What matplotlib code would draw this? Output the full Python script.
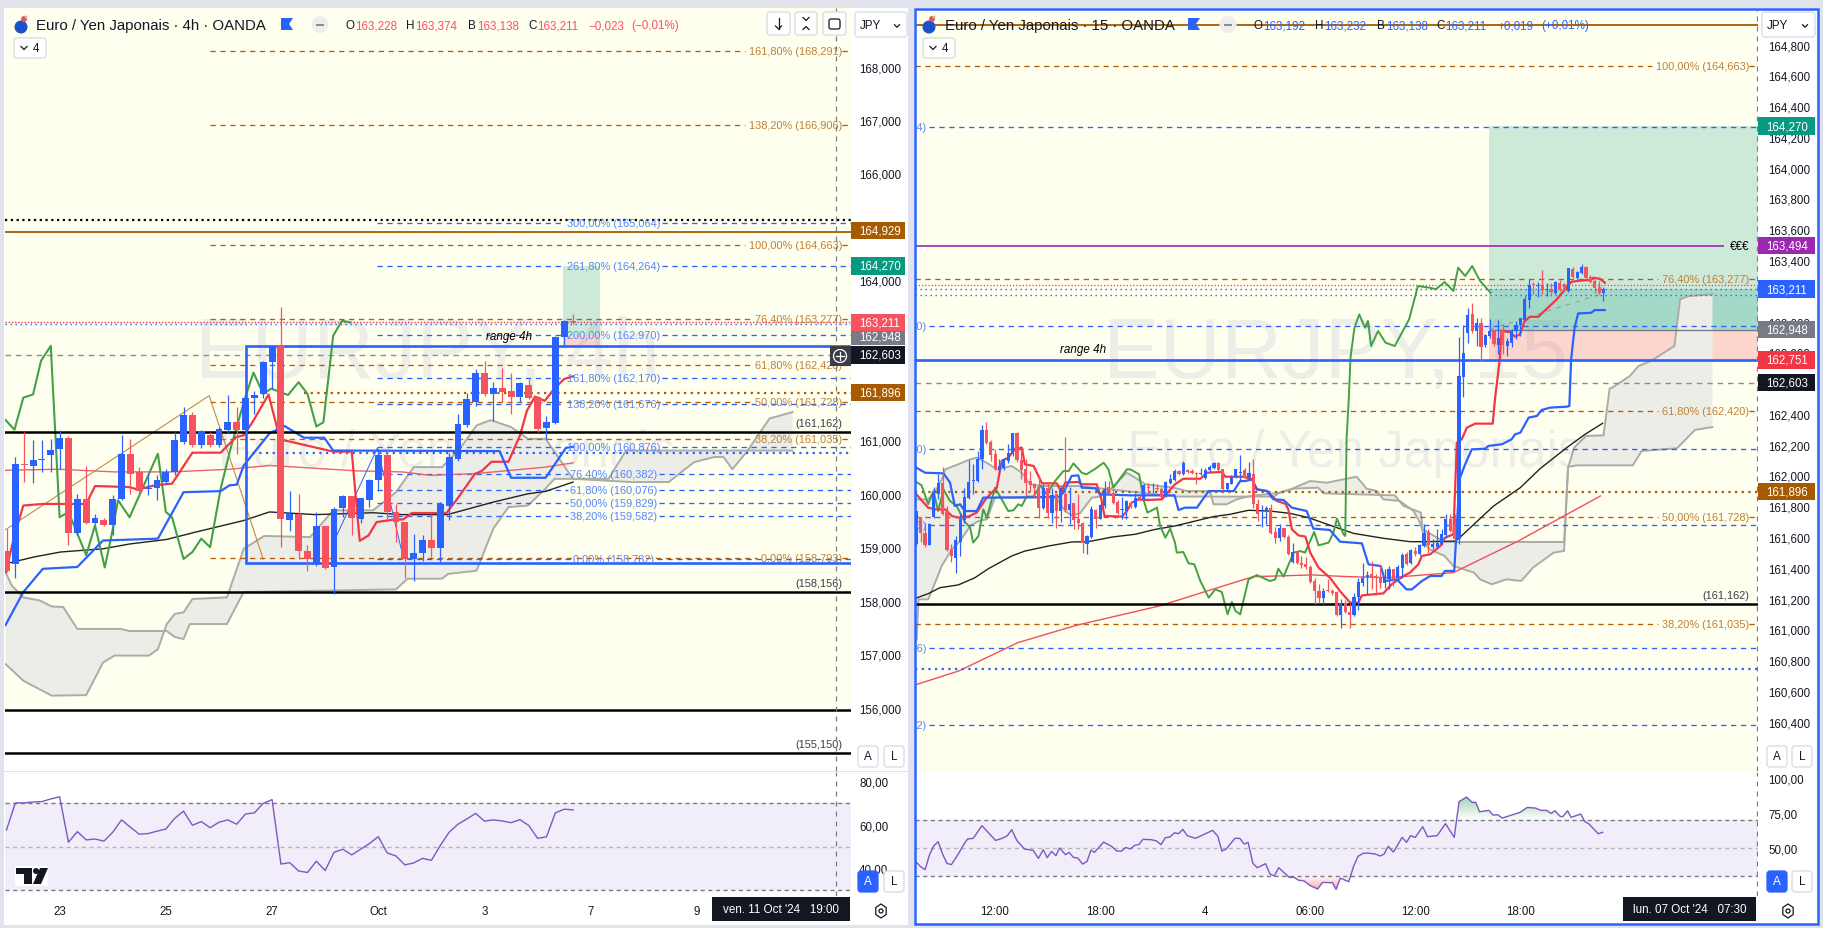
"""EUR/JPY dual pane screenshot (4h and 15m) rebuilt with matplotlib."""
import numpy as np

import matplotlib
matplotlib.use("Agg")
import matplotlib.pyplot as plt
from matplotlib.patches import Circle, FancyBboxPatch, Polygon, Rectangle

plt.rcParams["font.family"] = ["Liberation Sans", "DejaVu Sans"]

W, H = 1823, 929
BLUE = "#2962FF"
RED = "#F7525F"
LINE_RED = "#F23645"
GREEN = "#43A047"
ORANGE = "#B45F06"
ORANGE_TXT = "#BE8035"
BLUE_TXT = "#5585FF"
DARK = "#131722"
LAVENDER = "#E0E3EB"
YELLOW = "#FFFFF0"

# ---- left pane, 4h bars (bar index 6 = 23 Sep, 6 bars a day) ----
l_open = [158.91, 158.67, 160.54, 160.50, 160.61, 160.71, 160.81, 161.03, 159.24, 159.89,
          159.44, 159.49, 159.39, 159.88, 160.73, 160.39, 160.07, 160.09, 160.21, 160.38,
          160.95, 161.46, 160.90, 161.09, 160.89, 161.18, 161.33, 161.18, 161.77, 161.85,
          162.44, 162.74, 159.48, 159.61, 158.91, 158.66, 159.37, 158.60, 159.71, 159.94,
          159.51, 159.87, 160.24, 160.71, 159.63, 159.45, 158.75, 158.87, 159.11, 158.97,
          159.76, 160.64, 161.27, 161.69, 162.24, 161.85, 161.96, 161.90, 161.79, 162.02,
          161.80, 161.22, 161.31, 162.91, 163.22]
l_close = [158.53, 160.54, 160.51, 160.62, 160.64, 160.80, 161.03, 159.24, 159.89, 159.44,
           159.53, 159.39, 159.89, 160.73, 160.36, 160.04, 160.09, 160.24, 160.38, 160.98,
           161.46, 160.89, 161.15, 160.89, 161.20, 161.33, 161.18, 161.77, 161.83, 162.45,
           162.74, 159.50, 159.61, 158.90, 158.75, 159.37, 158.59, 159.69, 159.94, 159.52,
           159.90, 160.24, 160.71, 159.63, 159.45, 158.75, 158.88, 159.11, 158.97, 159.79,
           160.66, 161.29, 161.75, 162.24, 161.85, 161.96, 161.88, 161.79, 162.05, 161.78,
           161.20, 161.32, 162.91, 163.22, 163.20]
l_high = [159.33, 160.67, 161.14, 160.99, 160.98, 161.01, 161.17, 161.06, 159.98, 160.50,
          159.61, 159.53, 159.95, 161.09, 161.00, 160.48, 160.36, 160.33, 160.45, 161.13,
          161.61, 161.51, 161.17, 161.14, 161.23, 161.83, 161.60, 161.89, 161.90, 162.47,
          162.75, 163.47, 160.03, 159.98, 159.02, 159.63, 159.38, 159.73, 159.96, 159.94,
          159.91, 160.26, 160.81, 160.81, 159.79, 159.45, 159.23, 159.20, 159.60, 159.83,
          160.74, 161.47, 161.87, 162.31, 162.46, 162.07, 162.33, 162.24, 162.07, 162.13,
          161.82, 161.44, 162.93, 163.24, 163.35]
l_low = [158.51, 158.41, 160.20, 160.19, 160.39, 160.39, 160.45, 159.03, 159.20, 159.42,
         159.42, 159.37, 159.21, 159.86, 159.98, 160.01, 159.95, 159.86, 160.17, 160.33,
         160.92, 160.86, 160.83, 160.86, 160.86, 161.11, 160.73, 160.92, 161.47, 161.78,
         161.94, 158.99, 159.29, 158.75, 158.54, 158.63, 158.57, 158.10, 159.54, 159.21,
         159.43, 159.74, 160.04, 159.51, 159.07, 158.40, 158.35, 158.73, 158.80, 158.70,
         159.48, 160.60, 161.24, 161.62, 161.82, 161.35, 161.69, 161.47, 161.69, 161.75,
         161.14, 161.00, 161.29, 162.75, 163.16]

l_tenkan_x = [-0.1, 0.9, 1.9, 4.1, 9, 10, 13.9, 14.8, 16.8, 18.7, 21, 24.2, 25.9, 26.8, 27.8, 29.6,
              30.9, 36.9, 39, 39.9, 40.9, 41.8, 43.9, 44.8, 45.8, 49.7, 50.9, 52.9, 53.7, 54.8,
              56.7, 58, 58.8, 59.7, 60.8, 62, 63, 64]
l_tenkan = [158.51, 159.20, 159.76, 159.79, 159.79, 160.125, 160.106, 160.06, 160.14, 160.17,
            160.75, 160.75, 161.04, 161.075, 161.325, 161.84, 161.0, 160.77, 160.77, 159.10,
            159.20, 159.45, 159.50, 159.50, 159.62, 159.62, 159.88, 160.35, 160.41, 160.58,
            160.58, 161.07, 161.54, 161.80, 161.72, 161.97, 162.13, 162.18]
l_kijun_x = [-0.1, 1.9, 4.1, 8, 10.9, 17.1, 20, 24.2, 25.2, 26, 26.8, 29.7, 31.4, 33.6, 35.9,
             36.9, 55.7, 57, 60.9, 63.2, 64]
l_kijun = [157.525, 158.14, 158.575, 158.61, 159.105, 159.14, 160.01, 160.03, 160.14, 160.15,
           160.51, 161.11, 161.25, 161.03, 161.03, 160.79, 160.78, 160.28, 160.28, 160.84, 160.86]
l_chikou_x = [-0.1, 0.9, 1.9, 3, 3.9, 5, 6, 7, 9, 10, 11.1, 11.9, 12.6, 13.9, 17.1, 18, 18.7,
              20, 21, 22, 23, 24.2, 25.3, 26.9, 27.9, 29, 29.9, 31.8, 33, 34, 35, 35.8, 36.9,
              37.9, 38.8]
l_chikou = [161.36, 161.18, 161.78, 161.84, 162.47, 162.75, 159.54, 159.64, 158.83, 159.39,
            158.60, 159.23, 159.86, 159.54, 160.73, 159.64, 159.54, 158.76, 158.89, 159.14,
            158.98, 160.08, 160.82, 161.75, 162.25, 161.85, 161.95, 161.83, 162.07, 161.85,
            161.24, 161.32, 162.94, 163.22, 163.19]
l_ma_black_x = [-0.1, 3.2, 6.1, 10.9, 13.9, 18.1, 21.3, 26.8, 29.7, 34.9, 41.4, 44.7, 49.8, 55,
                58.9, 60.9, 64]
l_ma_black = [158.67, 158.80, 158.89, 158.95, 159.04, 159.125, 159.26, 159.48, 159.64, 159.59,
              159.625, 159.59, 159.59, 159.825, 159.98, 160.025, 160.20]
l_ma_red_x = [-0.1, 5.8, 12.2, 18.7, 25.2, 29.7, 35.6, 39.5, 44.7, 47.9, 53.1, 60.9, 64]
l_ma_red = [160.42, 160.44, 160.39, 160.39, 160.44, 160.51, 160.45, 160.41, 160.39, 160.325,
            160.36, 160.48, 160.56]
l_span_a_x = [-0.1, 0.6, 1.9, 3.8, 5.1, 6.4, 8, 12.9, 13.9, 18.1, 19, 20, 20.7, 24.9, 25.9, 26.8,
              44, 45.3, 49.2, 49.9, 53.1, 55, 56.7, 58.9, 60.9, 61.9, 68, 70, 88.8]
l_span_a = [158.51, 158.26, 158.04, 157.98, 157.87, 157.86, 157.45, 157.45, 157.41, 157.41,
            157.30, 157.26, 157.54, 157.54, 157.86, 158.14, 158.19, 158.39, 158.39, 158.48,
            158.54, 159.33, 159.73, 159.76, 160.08, 160.26, 160.26, 160.79, 160.79]
l_span_b_x = [-0.1, 1.9, 5.1, 9, 10.9, 12.2, 16.1, 17.1, 18.1, 19, 20, 21, 24.9, 26.8, 29.1, 34.3,
              36.9, 41.4, 44, 46, 49.2, 51.2, 53.1, 54.7, 57, 58.9, 60.9, 64, 70.6, 74.8, 77.7,
              80, 81, 82, 83.6, 86.2, 88.8]
l_span_b = [156.79, 156.48, 156.20, 156.21, 156.82, 156.95, 156.95, 157.07, 157.54, 157.73,
            157.76, 158.01, 158.04, 158.95, 159.19, 159.17, 159.67, 159.67, 160.01, 160.48,
            160.48, 160.82, 161.26, 161.36, 161.23, 161.01, 161.01, 160.26, 160.20, 160.20,
            160.575, 160.67, 160.67, 160.44, 160.76, 161.39, 161.51]
l_rsi = [57.7, 70.1, 70.1, 70.5, 70.7, 71.9, 72.9, 52.0, 56.9, 53.1, 53.5, 52.5, 56.6, 62.3, 58.9,
         55.7, 56.0, 57.1, 58.1, 63.0, 66.3, 59.8, 61.5, 58.7, 61.2, 62.3, 60.3, 65.0, 65.5, 69.9,
         71.6, 42.0, 42.6, 38.8, 38.1, 43.3, 39.0, 47.4, 48.8, 46.2, 48.8, 51.4, 54.6, 47.1, 45.7,
         41.6, 42.5, 44.6, 43.7, 50.5, 56.6, 60.3, 62.7, 65.3, 61.7, 62.3, 61.8, 61.0, 62.4, 59.7,
         53.8, 54.5, 65.5, 67.2, 66.9]

l_fib_orange = [168.291, 166.906, 164.663, 163.277, 162.420, 161.728, 161.035, 158.793]
l_fib_orange_lab = ["161,80%", "138,20%", "100,00%", "76,40%", "61,80%", "50,00%", "38,20%", "0,00%"]
l_fib_blue = [165.064, 164.264, 162.970, 162.170, 161.676, 160.876, 160.382, 160.076, 159.829,
              159.582, 158.782]
l_fib_blue_lab = ["300,00%", "261,80%", "200,00%", "161,80%", "138,20%", "100,00%", "76,40%",
                  "61,80%", "50,00%", "38,20%", "0,00%"]
l_black_levels = [161.162, 158.156, 155.95, 155.150]
l_price_ticks = [156, 157, 158, 159, 160, 161, 162, 163, 164, 165, 166, 167, 168]
l_time_ticks = [6, 18, 30, 42, 54, 66, 78]
l_time_labels = ["23", "25", "27", "Oct", "3", "7", "9"]

# ---- right pane, 15m bars (bar index 66 = 4 Oct 00:00) ----
r_open = [161.553, 161.733, 161.624, 161.551, 161.733, 161.880, 161.949, 161.763, 161.520, 161.466,
          161.568, 161.711, 161.856, 161.966, 161.964, 162.105, 162.294, 162.218, 162.138, 162.034,
          162.051, 162.094, 162.138, 162.274, 162.101, 162.040, 161.964, 161.943, 161.927, 161.789,
          161.921, 161.754, 161.878, 161.769, 161.878, 161.774, 161.819, 161.720, 161.694, 161.557,
          161.603, 161.776, 161.720, 161.802, 161.925, 161.889, 161.830, 161.774, 161.769, 161.824,
          161.795, 161.860, 161.850, 161.927, 161.917, 161.921, 161.915, 161.871, 161.949, 161.971,
          162.029, 162.008, 162.034, 162.029, 162.018, 162.010, 161.986, 162.034, 162.047, 162.079,
          162.040, 161.914, 161.945, 161.992, 162.018, 162.036, 161.986, 162.012, 161.813, 161.787,
          161.763, 161.787, 161.633, 161.592, 161.659, 161.603, 161.440, 161.505, 161.429, 161.423,
          161.408, 161.314, 161.249, 161.206, 161.256, 161.249, 161.245, 161.094, 161.169, 161.115,
          161.094, 161.210, 161.304, 161.343, 161.358, 161.347, 161.332, 161.304, 161.325, 161.390,
          161.336, 161.401, 161.488, 161.429, 161.509, 161.488, 161.542, 161.635, 161.535, 161.538,
          161.553, 161.611, 161.715, 161.676, 161.590, 162.642, 162.923, 163.047, 162.938, 162.992,
          162.845, 162.906, 162.938, 162.850, 162.938, 162.841, 162.863, 162.936, 162.975, 163.010,
          163.138, 163.242, 163.229, 163.235, 163.207, 163.213, 163.183, 163.252, 163.242, 163.198,
          163.339, 163.285, 163.313, 163.356, 163.291, 163.261, 163.226, 163.183]
r_close = [161.769, 161.629, 161.546, 161.683, 161.889, 161.954, 161.748, 161.516, 161.477, 161.579,
           161.715, 161.863, 161.958, 161.971, 162.109, 162.294, 162.213, 162.131, 162.044, 162.062,
           162.109, 162.144, 162.274, 162.101, 162.034, 161.954, 161.936, 161.921, 161.789, 161.921,
           161.754, 161.871, 161.769, 161.917, 161.774, 161.813, 161.711, 161.689, 161.559, 161.607,
           161.780, 161.715, 161.806, 161.915, 161.878, 161.824, 161.759, 161.780, 161.832, 161.795,
           161.856, 161.845, 161.936, 161.919, 161.921, 161.915, 161.863, 161.958, 161.979, 162.029,
           162.012, 162.083, 162.025, 162.018, 162.008, 162.018, 162.036, 162.055, 162.079, 162.036,
           161.914, 161.949, 161.992, 162.040, 162.025, 161.992, 162.018, 161.813, 161.750, 161.791,
           161.787, 161.629, 161.592, 161.661, 161.600, 161.488, 161.505, 161.429, 161.421, 161.408,
           161.308, 161.249, 161.206, 161.249, 161.249, 161.234, 161.094, 161.174, 161.115, 161.094,
           161.213, 161.310, 161.336, 161.351, 161.343, 161.336, 161.304, 161.336, 161.395, 161.325,
           161.405, 161.481, 161.423, 161.514, 161.488, 161.546, 161.629, 161.546, 161.557, 161.559,
           161.618, 161.720, 161.639, 161.590, 162.646, 162.798, 163.040, 162.938, 162.992, 162.837,
           162.910, 162.938, 162.852, 162.895, 162.845, 162.873, 162.938, 162.975, 163.021, 163.144,
           163.237, 163.235, 163.235, 163.205, 163.213, 163.192, 163.259, 163.205, 163.209, 163.346,
           163.291, 163.322, 163.356, 163.285, 163.257, 163.220, 163.183, 163.209]
r_high = [161.769, 161.733, 161.694, 161.694, 161.928, 162.008, 162.057, 161.802, 161.553, 161.607,
          161.759, 161.921, 162.099, 162.073, 162.159, 162.326, 162.350, 162.231, 162.170, 162.105,
          162.116, 162.203, 162.278, 162.283, 162.181, 162.109, 162.029, 161.954, 161.997, 161.943,
          161.949, 161.921, 161.889, 161.932, 162.252, 161.928, 161.824, 161.878, 161.698, 161.611,
          161.802, 161.785, 161.813, 161.964, 161.964, 161.910, 161.841, 161.863, 161.841, 161.834,
          161.889, 161.871, 161.943, 161.949, 161.949, 161.943, 161.928, 161.964, 162.008, 162.040,
          162.036, 162.094, 162.040, 162.044, 162.023, 162.051, 162.051, 162.066, 162.088, 162.088,
          162.044, 161.953, 162.001, 162.044, 162.131, 162.051, 162.090, 162.105, 161.849, 161.806,
          161.802, 161.813, 161.668, 161.683, 161.661, 161.611, 161.559, 161.509, 161.477, 161.473,
          161.416, 161.336, 161.293, 161.267, 161.325, 161.265, 161.249, 161.200, 161.191, 161.174,
          161.239, 161.336, 161.429, 161.379, 161.444, 161.358, 161.416, 161.390, 161.412, 161.395,
          161.416, 161.499, 161.503, 161.520, 161.538, 161.553, 161.683, 161.650, 161.585, 161.655,
          161.655, 161.748, 161.748, 161.748, 162.900, 162.975, 163.090, 163.118, 163.025, 163.025,
          162.917, 163.014, 162.949, 163.008, 162.982, 162.895, 162.954, 163.003, 163.025, 163.166,
          163.274, 163.257, 163.257, 163.333, 163.252, 163.252, 163.263, 163.270, 163.252, 163.350,
          163.356, 163.328, 163.372, 163.361, 163.300, 163.278, 163.263, 163.226]
r_low = [161.542, 161.568, 161.535, 161.546, 161.726, 161.845, 161.741, 161.509, 161.438, 161.369,
         161.477, 161.694, 161.845, 161.878, 161.958, 162.044, 162.203, 162.094, 162.034, 162.018,
         162.036, 162.083, 162.127, 162.088, 161.975, 161.867, 161.899, 161.856, 161.724, 161.780,
         161.724, 161.694, 161.661, 161.698, 161.763, 161.687, 161.650, 161.655, 161.494, 161.488,
         161.596, 161.661, 161.715, 161.791, 161.871, 161.817, 161.748, 161.715, 161.720, 161.791,
         161.791, 161.841, 161.845, 161.889, 161.889, 161.899, 161.856, 161.863, 161.943, 161.964,
         162.001, 162.001, 162.018, 162.008, 161.943, 162.001, 161.975, 162.025, 162.040, 162.029,
         161.899, 161.899, 161.943, 161.986, 161.964, 161.986, 161.979, 161.791, 161.704, 161.668,
         161.683, 161.618, 161.559, 161.574, 161.596, 161.481, 161.434, 161.423, 161.401, 161.395,
         161.304, 161.163, 161.174, 161.163, 161.243, 161.221, 161.087, 161.011, 161.109, 161.011,
         161.087, 161.126, 161.282, 161.228, 161.265, 161.221, 161.271, 161.271, 161.260, 161.282,
         161.314, 161.336, 161.416, 161.423, 161.477, 161.481, 161.535, 161.494, 161.525, 161.531,
         161.546, 161.596, 161.633, 161.585, 161.553, 162.512, 162.863, 162.927, 162.841, 162.743,
         162.837, 162.895, 162.841, 162.787, 162.787, 162.776, 162.837, 162.889, 162.906, 163.003,
         163.090, 163.177, 163.161, 163.181, 163.166, 163.181, 163.177, 163.198, 163.203, 163.192,
         163.285, 163.278, 163.307, 163.278, 163.248, 163.183, 163.177, 163.133]

r_tenkan_x = [0, 2.7, 4.3, 6.6, 8.1, 9.6, 11.9, 13.8, 16.1, 18.4, 19.5, 21, 22.6, 24.1, 24.8, 26.8,
              27.9, 28.7, 32.1, 33.2, 34, 37, 37.8, 41.2, 42.2, 43, 47, 48.1, 49.2, 50.8, 53, 56.1,
              58.4, 59.1, 61, 64.9, 66.4, 69.8, 70.6, 74.8, 76.7, 77.8, 80.1, 82.4, 84.3, 85, 85.8,
              87.3, 88.9, 90, 91.9, 94.5, 96.8, 99.1, 101, 101.8, 104.4, 106.7, 108.6, 111.3, 112.8,
              114.7, 115.5, 117.4, 119.7, 120.8, 122.7, 123.5, 124.6, 125.8, 127.7, 131.7, 132.2,
              133.3, 133.7, 135.6, 136.8, 137.9, 139, 140.2, 142.1, 146.3, 148.2, 149.7, 152.4,
              153.9, 154.7, 156.2, 157.3]
r_tenkan = [161.878, 161.791, 161.780, 161.780, 161.737, 161.726, 161.733, 161.759, 161.856, 161.921,
            162.094, 162.116, 162.174, 162.181, 162.073, 162.062, 161.997, 161.949, 161.949, 161.889,
            161.954, 161.958, 161.943, 161.943, 161.856, 161.737, 161.733, 161.769, 161.824, 161.845,
            161.841, 161.845, 161.921, 161.943, 161.979, 161.979, 162.018, 162.023, 161.992, 161.992,
            161.975, 161.910, 161.899, 161.834, 161.817, 161.780, 161.650, 161.611, 161.603, 161.499,
            161.401, 161.336, 161.249, 161.174, 161.174, 161.221, 161.228, 161.234, 161.293, 161.347,
            161.369, 161.423, 161.477, 161.488, 161.542, 161.596, 161.618, 162.213, 162.235, 162.311,
            162.337, 162.337, 162.495, 162.754, 162.938, 162.932, 162.902, 162.917, 163.003, 163.031,
            163.031, 163.144, 163.209, 163.259, 163.268, 163.270, 163.285, 163.278, 163.252]
r_kijun_x = [0, 2, 6.2, 7.7, 8.8, 10, 11.1, 13.8, 15.3, 32.5, 33.6, 35.5, 37, 37.8, 40.9, 42, 48.5,
             59, 59.9, 61.4, 64.1, 66, 66.8, 72.5, 74, 75.1, 76.7, 77.8, 80.1, 81.6, 83.9, 85.8,
             89.2, 90.7, 94.5, 96.8, 101.8, 103.3, 106.1, 107.1, 109.8, 112, 113.2, 115.5, 117.4,
             120, 120.8, 122.9, 124.1, 125.4, 126.9, 130, 130.7, 133.8, 136, 136.8, 138, 139.9,
             141.8, 142.9, 144.8, 148.6, 149.2, 149.6, 150.4, 151.2, 154.2, 155, 157.3]
r_kijun = [162.051, 162.018, 162.014, 161.954, 161.802, 161.813, 161.769, 161.769, 161.856, 161.860,
           161.889, 161.997, 162.001, 161.921, 161.917, 161.878, 161.871, 161.871, 161.776, 161.791,
           161.791, 161.867, 161.899, 161.899, 161.964, 161.964, 161.975, 161.910, 161.899, 161.845,
           161.841, 161.791, 161.769, 161.655, 161.646, 161.570, 161.559, 161.423, 161.412, 161.314,
           161.325, 161.260, 161.260, 161.314, 161.347, 161.347, 161.380, 161.380, 161.975, 162.073,
           162.170, 162.174, 162.192, 162.203, 162.235, 162.268, 162.278, 162.376, 162.387, 162.426,
           162.441, 162.447, 162.451, 162.754, 162.960, 163.053, 163.057, 163.075, 163.075]
r_chikou_x = [0, 1.2, 2.7, 3.9, 5, 6.2, 7.7, 9.2, 11.1, 12.3, 13, 14.2, 15.3, 16.1, 18, 19.5, 21, 22.2,
              23.3, 24.1, 25.2, 26.8, 28.3, 29.8, 31.7, 33.6, 34.8, 35.9, 37.8, 38.9, 40.9, 42.8,
              43.9, 45, 48.1, 48.9, 50.9, 51.9, 52.8, 55, 55.7, 56.9, 58, 59.1, 59.5, 61, 62.2, 63.5,
              64.9, 66.8, 68.3, 69.8, 71.1, 72.1, 72.9, 74, 75.9, 77.8, 80.8, 82, 82.7, 83.9, 86.2,
              87.7, 88.8, 90.9, 91.9, 94.2, 95.3, 96.1, 97.6, 98, 98.3, 98.8, 99.2, 100.1, 101.2,
              102.5, 103.2, 103.9, 105.5, 107.2, 109.3, 112.6, 114.6, 117.3, 118.7, 120.7, 122.7,
              123.8, 125.4, 127, 128.8, 131.2]
r_chikou = [161.958, 161.936, 161.813, 161.899, 161.769, 161.910, 161.834, 161.802, 161.698, 161.661,
            161.564, 161.607, 161.780, 161.726, 161.921, 161.845, 161.769, 161.774, 161.813, 161.802,
            161.863, 161.863, 161.936, 161.878, 161.964, 162.029, 162.029, 162.079, 162.018, 162.008,
            162.044, 162.083, 162.040, 161.921, 162.040, 162.040, 162.008, 161.845, 161.759, 161.791,
            161.672, 161.596, 161.655, 161.564, 161.499, 161.503, 161.429, 161.423, 161.314, 161.206,
            161.260, 161.243, 161.098, 161.178, 161.120, 161.098, 161.325, 161.353, 161.314, 161.325,
            161.395, 161.343, 161.499, 161.509, 161.499, 161.633, 161.546, 161.564, 161.628, 161.719,
            161.618, 161.607, 162.235, 162.495, 162.766, 162.960, 163.047, 162.960, 163.004, 162.841,
            162.939, 162.863, 162.841, 163.015, 163.231, 163.220, 163.210, 163.257, 163.199, 163.350,
            163.296, 163.361, 163.264, 163.188]
r_ma_black_x = [0, 2.7, 5.4, 9.6, 13.4, 16.5, 21.8, 24.8, 30.2, 35.5, 39.3, 44.7, 50, 54.6, 59.1, 67.9,
                71.7, 75.9, 80.8, 85.4, 89.6, 96.1, 99.9, 106.7, 112.8, 117, 123.1, 123.9, 131.9, 138,
                142.5, 148.6, 152.8, 156.8]
r_ma_black = [161.204, 161.232, 161.271, 161.289, 161.336, 161.395, 161.477, 161.509, 161.542, 161.568,
              161.570, 161.600, 161.618, 161.650, 161.672, 161.733, 161.748, 161.774, 161.769, 161.754,
              161.726, 161.661, 161.624, 161.592, 161.570, 161.570, 161.574, 161.590, 161.802, 161.921,
              162.044, 162.181, 162.268, 162.339]
r_ma_red_x = [-0.3, 9.7, 23.2, 36.6, 55.5, 67.6, 77, 82.4, 90.4, 98.5, 107.9, 122.7, 137.5, 156.3]
r_ma_red = [160.639, 160.730, 160.914, 161.027, 161.152, 161.260, 161.343, 161.347, 161.354, 161.343,
            161.336, 161.369, 161.574, 161.867]
r_span_a_x = [0.1, 0.5, 2.7, 4.6, 5.8, 8.1, 10, 12.3, 14.2, 16.1, 18, 24.8, 31.7, 34, 35.5, 37.4, 40.1,
              42, 44.7, 48.1, 50, 52.3, 58.8, 61.8, 67.1, 67.9, 70.9, 73.2, 76.3, 83.1, 85.8, 90, 93.8,
              97.6, 100.6, 102.9, 105.2, 106.7, 110.5, 113.6, 115.1, 116.6, 117.3, 120.7, 122.7, 127.4,
              128.8, 131.5, 134.8, 138.2, 140.9, 145.6, 148, 148.9, 150.3, 153, 157, 158.4, 159, 163,
              165, 167.8, 173.2, 174.5, 176.5, 181.9]
r_span_a = [160.935, 161.195, 161.195, 161.325, 161.412, 161.520, 161.574, 161.672, 161.704, 161.715,
            161.856, 161.856, 161.863, 161.769, 161.741, 161.754, 161.856, 161.863, 161.921, 162.018,
            161.986, 161.943, 161.921, 161.899, 161.899, 161.813, 161.813, 161.845, 161.867, 161.888,
            161.914, 161.964, 161.953, 161.975, 161.992, 161.914, 161.899, 161.845, 161.834, 161.769,
            161.693, 161.542, 161.520, 161.477, 161.412, 161.369, 161.325, 161.293, 161.325, 161.315,
            161.401, 161.499, 161.510, 162.051, 162.181, 162.257, 162.261, 162.564, 162.571, 162.646,
            162.711, 162.744, 162.841, 163.145, 163.166, 163.177]
r_span_b_x = [-0.3, 2.7, 4.6, 5.8, 6.6, 9.6, 12.3, 13.8, 16.1, 18.4, 21.8, 24.1, 26, 28.7, 37, 59.5, 81.7,
              83, 86.4, 91.8, 93.1, 109.3, 111.3, 115.3, 115.7, 120.7, 148, 148.9, 151, 163.7, 165.7,
              173.8, 177.9, 181.9]
r_span_b = [161.845, 161.845, 161.910, 161.975, 162.040, 162.073, 162.105, 162.116, 162.083, 162.040,
            162.062, 162.018, 161.943, 161.932, 161.932, 161.863, 161.863, 161.889, 161.915, 161.921,
            161.884, 161.871, 161.802, 161.759, 161.650, 161.568, 161.568, 162.057, 162.066, 162.066,
            162.159, 162.177, 162.296, 162.315]
r_rsi_x = [-0.3, 0.9, 2, 3, 4, 5, 6, 7, 8, 9.6, 10.9, 11.7, 13, 15, 18.1, 19.6, 20.8, 21.8, 23, 24.7, 26.7,
           27.9, 29, 29.9, 30.9, 31.9, 32.7, 34.1, 34.9, 35.9, 36.9, 38, 39, 39.9, 40.7, 42.8, 44.6, 45.8,
           46.9, 47.8, 48.9, 49.9, 50.9, 51.8, 53.8, 54.9, 55.9, 56.9, 57.9, 59, 59.9, 60.9, 61.9, 63.8,
           67.7, 68.9, 69.8, 70.8, 72.8, 73.9, 74.9, 75.8, 76.9, 77.9, 79.8, 80.8, 81.8, 82.8, 85.2, 86.4,
           87.2, 88.6, 90, 91.7, 92.8, 95.1, 95.9, 96.9, 98.8, 99.9, 100.9, 102.1, 103.2, 104.8, 106, 106.9,
           107.8, 109, 111, 112, 112.9, 114, 115.7, 116.8, 119, 120.9, 122.9, 124, 125.7, 127, 127.8, 128.7,
           130.8, 131.8, 132.8, 133.9, 137.9, 139.6, 141.5, 142.7, 144, 145, 145.9, 147.1, 147.7, 148.8,
           149.6, 151.8, 152.7, 153.7, 155.8, 156.8]
r_rsi = [40.7, 36.7, 34.3, 44.8, 51.4, 54.3, 45.5, 38.8, 37.9, 45.5, 52.6, 56.2, 56.7, 65.7, 55.2, 56.7,
         58.6, 62.9, 55.0, 49.1, 48.1, 42.4, 48.6, 42.9, 47.4, 44.3, 49.8, 45.0, 46.7, 43.1, 42.6, 38.3,
         40.2, 48.3, 46.7, 54.0, 51.0, 47.6, 47.6, 50.2, 49.1, 51.7, 52.4, 56.0, 55.7, 54.8, 52.2, 57.2,
         57.6, 60.7, 60.0, 63.1, 58.6, 56.7, 62.4, 58.1, 47.6, 49.1, 56.7, 56.7, 52.6, 53.8, 38.8, 35.7,
         38.6, 31.2, 29.8, 35.7, 28.8, 28.8, 26.9, 26.2, 22.9, 20.5, 25.2, 25.0, 20.2, 28.3, 25.7, 36.7,
         43.8, 46.0, 46.2, 45.5, 44.1, 45.5, 51.0, 46.9, 57.4, 53.8, 58.6, 57.4, 65.0, 57.9, 58.6, 67.2,
         57.4, 82.9, 86.2, 82.4, 82.4, 75.7, 76.7, 73.3, 73.6, 71.2, 75.2, 78.8, 78.3, 76.7, 76.7, 74.5,
         76.4, 72.4, 72.2, 76.4, 71.7, 74.1, 68.8, 66.9, 60.0, 61.0]

r_fib_orange = [164.663, 163.277, 162.420, 161.728, 161.035]
r_fib_orange_lab = ["100,00%", "76,40%", "61,80%", "50,00%", "38,20%"]
r_fib_blue = [164.264, 162.970, 162.170, 161.676, 160.876, 160.382]
r_fib_blue_lab = ["261,80%", "200,00%", "161,80%", "138,20%", "100,00%", "76,40%"]
r_price_ticks = [160.4, 160.6, 160.8, 161.0, 161.2, 161.4, 161.6, 161.8, 162.0, 162.2, 162.4, 162.6,
                 162.8, 163.0, 163.2, 163.4, 163.6, 163.8, 164.0, 164.2, 164.4, 164.6, 164.8]
r_time_ticks = [18, 42, 66, 90, 114, 138]
r_time_labels = ["12:00", "18:00", "4", "06:00", "12:00", "18:00"]

l_tags = [(161.896, "161,896", "#A85A00"), (164.929, "164,929", "#A85A00"), (164.270, "164,270", "#089981"),
          (162.948, "162,948", "#787B86"), (163.211, "163,211", RED), (162.603, "162,603", DARK)]
r_tags = [(161.896, "161,896", "#A85A00"), (164.270, "164,270", "#089981"), (163.494, "163,494", "#9C27B0"),
          (163.211, "163,211", BLUE), (162.948, "162,948", "#787B86"), (162.751, "162,751", LINE_RED),
          (162.603, "162,603", DARK)]

# left values were read against tick label centres, about a pixel high
L_SHIFT = 0.022

TICK_FS = 8.3
FIB_FS = 7.9


def fr(value, dec=3):
    return f"{value:.{dec}f}".replace(".", ",")


def px_axes(fig, x0, y0, x1, y1, **kw):
    return fig.add_axes([x0 / W, 1 - y1 / H, (x1 - x0) / W, (y1 - y0) / H], **kw)


def clean(ax):
    for s in ax.spines.values():
        s.set_visible(False)


def candles(ax, o, h, l, c, width):
    o, h, l, c = map(np.asarray, (o, h, l, c))
    x = np.arange(len(o))
    cols = np.where(c >= o, BLUE, RED)
    ax.vlines(x, l, h, colors=cols, lw=0.9, zorder=3)
    ax.bar(x, np.maximum(np.abs(c - o), 0.004), bottom=np.minimum(o, c), width=width,
           color=cols, lw=0, zorder=3.1)


def cloud(ax, xa, a, xb, b):
    xs = np.r_[xa, xb[::-1]]
    ys = np.r_[a, b[::-1]]
    ax.fill(xs, ys, color="#EDEDE7", lw=0, zorder=1)
    ax.plot(xa, a, color="#ABABA8", lw=1.4, zorder=1.2)
    ax.plot(xb, b, color="#ABABA8", lw=1.4, zorder=1.2)


def fib_level(ax, x0, x1, price, label, color, txt_color, anchor, ha, bar_px):
    """Dashed level with the line broken around its text."""
    span = len(label) * 5.7 / bar_px
    if ha == "center":
        gap0, gap1 = anchor - span / 2, anchor + span / 2
    else:
        gap0, gap1 = anchor - span, anchor
    for a, b in ((x0, gap0), (gap1, x1)):
        if b > a:
            ax.hlines(price, a, b, colors=color, linestyles=(0, (4, 3.5)), lw=0.95, zorder=1.5)
    ax.text(anchor, price, label, ha=ha, va="center", fontsize=FIB_FS, color=txt_color, zorder=4, clip_on=True)


def price_tags(ax, tags, width_px):
    pos = ax.get_position()
    ax_w = pos.width * W
    ax_h = pos.height * H
    y0, y1 = ax.get_ylim()
    hh = 17.5 * (y1 - y0) / ax_h
    for price, text, col in tags:
        ax.add_patch(Rectangle((1, price - hh / 2), width_px / ax_w, hh, transform=ax.get_yaxis_transform(),
                               facecolor=col, edgecolor="none", clip_on=False, zorder=10))
        ax.text(1 + 8 / ax_w, price, text, transform=ax.get_yaxis_transform(), color="white", fontsize=TICK_FS,
                va="center", ha="left", clip_on=False, zorder=11)


def rsi_base(ax, xlim, ylim, ticks, ticklabels, pad):
    clean(ax)
    ax.set_xlim(*xlim)
    ax.set_ylim(*ylim)
    ax.yaxis.tick_right()
    ax.set_yticks(ticks)
    ax.set_yticklabels(ticklabels)
    ax.tick_params(axis="both", length=0, labelsize=TICK_FS, labelcolor=DARK)
    ax.tick_params(axis="y", pad=pad)
    ax.tick_params(axis="x", pad=6.5)
    ax.axhspan(30, 70, color="#F1EDF9", lw=0, zorder=0)
    ax.axhline(70, color="#787B86", ls=(0, (3, 2.5)), lw=1, zorder=1)
    ax.axhline(50, color="#B4B6BE", ls=(0, (3, 2.5)), lw=1, zorder=1)
    ax.axhline(30, color="#787B86", ls=(0, (3, 2.5)), lw=1, zorder=1)


def rsi_gradient(ax, x, y, level, rgb, top):
    """Fade from the RSI excursion towards its band line, clipped under the curve."""
    x = np.asarray(x)
    y = np.asarray(y)
    grid_x = np.linspace(x[0], x[-1], 1500)
    grid_y = np.interp(grid_x, x, y)
    mask = grid_y > level if top > level else grid_y < level
    grad = np.zeros((64, 2, 4))
    grad[..., :3] = rgb
    grad[..., 3] = np.linspace(0.55, 0.0, 64)[:, None]
    im = ax.imshow(grad, extent=(x[0], x[-1], level, top), origin="upper", aspect="auto", zorder=1.5)
    verts = np.c_[grid_x[mask], grid_y[mask]]
    # separate excursions would be bridged by one polygon, so close each at the band line
    poly = []
    for seg in np.split(verts, np.where(np.diff(verts[:, 0]) > 1)[0] + 1):
        poly += [[seg[0, 0], level]] + seg.tolist() + [[seg[-1, 0], level]]
    patch = Polygon(poly, transform=ax.transData, facecolor="none", edgecolor="none")
    ax.add_patch(patch)
    im.set_clip_path(patch)


fig = plt.figure(figsize=(W / 100, H / 100), dpi=100, facecolor="white")

# ---- page background ----
bg = fig.add_axes([0, 0, 1, 1], zorder=-5)
bg.set_xlim(0, W)
bg.set_ylim(H, 0)
bg.axis("off")
bg.add_patch(Rectangle((0, 0), W, 9, color=LAVENDER, lw=0))
bg.add_patch(Rectangle((0, 0), 4, H, color=LAVENDER, lw=0))
bg.add_patch(Rectangle((0, 926), W, 3, color=LAVENDER, lw=0))
bg.add_patch(Rectangle((4, 771.5), 904, 1.6, color=LAVENDER, lw=0))
bg.add_patch(Rectangle((908, 0), 6, H, color=LAVENDER, lw=0))
bg.add_patch(Rectangle((1819, 0), 4, H, color=LAVENDER, lw=0))

# ---- left main pane ----
ax = px_axes(fig, 5, 9, 851, 772, facecolor="white")
clean(ax)
ax.set_xlim(-0.17, 95.4)
ax.set_ylim(154.811, 169.099)
ax.yaxis.tick_right()
ax.set_yticks(l_price_ticks)
ax.set_yticklabels([fr(v) for v in l_price_ticks])
ax.set_xticks([])
ax.tick_params(axis="y", length=0, labelsize=TICK_FS, labelcolor=DARK, pad=5.8)
ax.axhspan(155.95, 169.099, color=YELLOW, lw=0, zorder=0)
ax.text(21.3, 162.19, "EURJPY, 4h", fontsize=61, color="#EEEEE8", va="baseline", ha="left", zorder=0.5)
ax.text(23.9, 160.52, "Euro / Yen Japonais", fontsize=37, color="#EEEEE8", va="baseline", ha="left", zorder=0.5)

# position box
ax.add_patch(Rectangle((62.9, 162.948), 4.1, 164.270 - 162.948, color="#089981", alpha=0.2, lw=0, zorder=1))
ax.add_patch(Rectangle((62.9, 162.751), 4.1, 162.948 - 162.751, color=LINE_RED, alpha=0.2, lw=0, zorder=1))

ls = L_SHIFT
cloud(ax, np.array(l_span_a_x), np.array(l_span_a) + ls, np.array(l_span_b_x), np.array(l_span_b) + ls)
ax.plot(l_ma_red_x, np.array(l_ma_red) + ls, color="#F0606C", lw=1.0, zorder=2)
ax.plot(l_ma_black_x, np.array(l_ma_black) + ls, color="#222222", lw=1.0, zorder=2)
ax.plot([-0.1, 22.9, 29], [159.33, 161.84, 158.78], color="#C08A4A", lw=0.8, zorder=2)
ax.plot([36.9, 41.9, 44.7], [159.08, 160.86, 158.89], color=BLUE, lw=0.7, zorder=2)
ax.plot(l_chikou_x, np.array(l_chikou) + ls, color=GREEN, lw=1.5, zorder=2.1)
ax.plot(l_tenkan_x, np.array(l_tenkan) + ls, color=LINE_RED, lw=1.6, zorder=2.2)
ax.plot(l_kijun_x, np.array(l_kijun) + ls, color=BLUE, lw=1.6, zorder=2.3)

for price, lab in zip(l_fib_orange, l_fib_orange_lab):
    fib_level(ax, 22.94, 95.4, price, f"{lab} ({fr(price)})", ORANGE, ORANGE_TXT, 94.4, "right", 8.85)
for price, lab in zip(l_fib_blue, l_fib_blue_lab):
    fib_level(ax, 41.9, 95.4, price, f"{lab} ({fr(price)})", BLUE, BLUE_TXT, 68.6, "center", 8.85)

for price in l_black_levels:
    ax.axhline(price, color="black", lw=1.8, zorder=2.4)
for price in (161.162, 158.156, 155.150):
    ax.annotate(f"({fr(price)})", (94.4, price), xytext=(0, 3), textcoords="offset points", ha="right", va="bottom",
                fontsize=FIB_FS, color="#3A3D47", zorder=4)
ax.axhline(165.126, color="black", ls=(0, (1, 1.6)), lw=1.6, zorder=2)
ax.axhline(164.900, color="#A85A00", lw=1.3, zorder=2)
ax.axhline(163.211, color=LINE_RED, ls=(0, (1, 1.3)), lw=1.0, zorder=2)
ax.axhline(163.190, color=BLUE, ls=(0, (1, 2.6)), lw=1.0, zorder=2)
ax.hlines(161.896, 33.6, 95.4, colors="#A85A00", linestyles=(0, (1, 2)), lw=1.6, zorder=2)
ax.hlines(160.760, 27, 95.4, colors=BLUE, linestyles=(0, (1, 2)), lw=1.6, zorder=2)
ax.axhline(162.603, color="#8A8D97", ls=(0, (4, 3.5)), lw=1, zorder=2)
ax.add_patch(Rectangle((27, 158.71), 70, 162.77 - 158.71, facecolor="none", edgecolor=BLUE, lw=1.9, zorder=2.5))
ax.text(56.8, 162.95, "range 4h", fontsize=8.4, fontstyle="italic", color="black", ha="center", va="center", zorder=4)
ax.axvline(93.7, color="#787B86", ls=(0, (4, 4)), lw=0.9, zorder=4)

candles(ax, np.array(l_open) + ls, np.array(l_high) + ls, np.array(l_low) + ls, np.array(l_close) + ls, 0.78)
price_tags(ax, l_tags, 54)

# ---- left RSI ----
rx = px_axes(fig, 5, 773, 851, 897, facecolor="white")
rsi_base(rx, (-0.17, 95.4), (27.3, 84.3), [40, 60, 80], ["40,00", "60,00", "80,00"], 5.8)
rx.plot(np.arange(len(l_rsi)), l_rsi, color="#7E57C2", lw=1.0, zorder=2)
rx.set_xticks(l_time_ticks)
rx.set_xticklabels(l_time_labels)
rx.axvline(93.7, color="#787B86", ls=(0, (4, 4)), lw=0.9, zorder=3)

# ---- right main pane ----
bx = px_axes(fig, 915, 10, 1758, 772, facecolor=YELLOW)
clean(bx)
bx.set_xlim(-0.3, 192.3)
bx.set_ylim(160.080, 165.031)
bx.yaxis.tick_right()
bx.set_yticks(r_price_ticks)
bx.set_yticklabels([fr(v) for v in r_price_ticks])
bx.set_xticks([])
bx.tick_params(axis="y", length=0, labelsize=TICK_FS, labelcolor=DARK, pad=7.2)
bx.text(42.7, 162.64, "EURJPY, 15", fontsize=61, color="#EEEEE8", va="baseline", ha="left", zorder=0.5)
bx.text(48.1, 162.06, "Euro / Yen Japonais", fontsize=37, color="#EEEEE8", va="baseline", ha="left", zorder=0.5)

bx.add_patch(Rectangle((130.9, 162.948), 62, 164.270 - 162.948, color="#089981", alpha=0.2, lw=0, zorder=1))
bx.add_patch(Rectangle((130.9, 162.948), 62, 163.211 - 162.948, color="#089981", alpha=0.2, lw=0, zorder=1))
bx.add_patch(Rectangle((130.9, 162.751), 62, 162.948 - 162.751, color=LINE_RED, alpha=0.2, lw=0, zorder=1))
bx.hlines(162.948, 130.9, 192.3, colors="#787B86", lw=1, zorder=1.5)

cloud(bx, np.array(r_span_a_x), np.array(r_span_a), np.array(r_span_b_x), np.array(r_span_b))
bx.plot(r_ma_red_x, r_ma_red, color="#F0505E", lw=1.0, zorder=2)
bx.plot(r_ma_black_x, r_ma_black, color="#222222", lw=1.0, zorder=2)
bx.plot([131, 156.3], [162.949, 163.177], color="#9A9A9A", ls=(0, (4, 5)), lw=0.8, zorder=2)
bx.plot(r_chikou_x, r_chikou, color=GREEN, lw=1.4, zorder=2.1)
bx.plot(r_tenkan_x, r_tenkan, color=LINE_RED, lw=1.6, zorder=2.2)
bx.plot(r_kijun_x, r_kijun, color=BLUE, lw=1.6, zorder=2.3)

for price, lab in zip(r_fib_orange, r_fib_orange_lab):
    fib_level(bx, -0.3, 192.3, price, f"{lab} ({fr(price)})", ORANGE, ORANGE_TXT, 190.3, "right", 4.376)
for price, lab in zip(r_fib_blue, r_fib_blue_lab):
    bx.hlines(price, 3.0, 192.3, colors=BLUE, linestyles=(0, (4, 3.5)), lw=0.95, zorder=1.5)
    bx.text(2.3, price, f"{lab} ({fr(price)})", ha="right", va="center", fontsize=FIB_FS, color=BLUE_TXT,
            clip_on=True, zorder=4)

bx.axhline(161.162, color="black", lw=1.8, zorder=2.4)
bx.annotate("(161,162)", (190.3, 161.162), xytext=(0, 3), textcoords="offset points", ha="right", va="bottom",
            fontsize=FIB_FS, color="#3A3D47", zorder=4)
bx.axhline(164.925, color="#A85A00", lw=1.3, zorder=4)
bx.hlines(163.494, -0.3, 184.5, colors="#9C27B0", lw=1.2, zorder=2)
bx.text(190.3, 163.494, "€€€", fontsize=8.4, color="black", ha="right", va="center", zorder=4)
bx.axhline(163.240, color=LINE_RED, ls=(0, (1, 1.6)), lw=0.9, zorder=2)
bx.axhline(163.211, color=BLUE, ls=(0, (1, 2.6)), lw=1.0, zorder=2)
bx.axhline(163.170, color=BLUE, ls=(0, (1, 2.6)), lw=1.0, zorder=2)
bx.axhline(161.896, color="#A85A00", ls=(0, (1, 2)), lw=1.6, zorder=2)
bx.axhline(160.740, color=BLUE, ls=(0, (1, 2)), lw=1.6, zorder=2)
bx.axhline(162.603, color="#8A8D97", ls=(0, (4, 3.5)), lw=1, zorder=2)
bx.axhline(162.751, color=BLUE, lw=1.9, zorder=2.5)
bx.text(38, 162.825, "range 4h", fontsize=8.4, fontstyle="italic", color="black", ha="center", va="center", zorder=4)
bx.axvline(192, color="#787B86", ls=(0, (4, 4)), lw=0.9, zorder=4)

candles(bx, r_open, r_high, r_low, r_close, 0.72)
price_tags(bx, r_tags, 57)

# ---- right RSI ----
sx = px_axes(fig, 915, 773, 1758, 897, facecolor="white")
rsi_base(sx, (-0.3, 192.3), (15.5, 104.1), [50, 75, 100], ["50,00", "75,00", "100,00"], 7.2)
rsi_gradient(sx, r_rsi_x, r_rsi, 70, (0.30, 0.69, 0.42), 87)
rsi_gradient(sx, r_rsi_x, r_rsi, 30, (0.95, 0.36, 0.36), 19)
sx.plot(r_rsi_x, r_rsi, color="#7E57C2", lw=1.0, zorder=2)
sx.set_xlim(-0.3, 192.3)
sx.set_ylim(15.5, 104.1)
sx.set_xticks(r_time_ticks)
sx.set_xticklabels(r_time_labels)
sx.axvline(192, color="#787B86", ls=(0, (4, 4)), lw=0.9, zorder=3)

# ---- chrome on top, in screen pixels ----
ov = fig.add_axes([0, 0, 1, 1], zorder=20, facecolor="none")
ov.set_xlim(0, W)
ov.set_ylim(H, 0)
ov.axis("off")


def button(x0, y0, x1, y1, face="white", edge="#D6D9E2"):
    ov.add_patch(FancyBboxPatch((x0 + 2, y0 + 2), x1 - x0 - 4, y1 - y0 - 4, boxstyle="round,pad=2,rounding_size=3",
                                facecolor=face, edgecolor=edge, lw=0.9))


def chevron(cx, cy, size=3, down=True, col=DARK):
    s = size if down else -size
    ov.plot([cx - size, cx, cx + size], [cy - s / 2, cy + s / 2, cy - s / 2], color=col, lw=0.9)


def gear(cx, cy):
    ang = np.linspace(0, 2 * np.pi, 7)[:-1] + np.pi / 2
    ov.add_patch(Polygon(np.c_[cx + 6 * np.cos(ang), cy + 7 * np.sin(ang)], facecolor="white", edgecolor=DARK, lw=0.9))
    ov.add_patch(Circle((cx, cy), 2, facecolor="white", edgecolor=DARK, lw=0.9))


def header(x_icon, title, title_x, x_flag, x_dot, parts, col):
    ov.add_patch(Circle((x_icon, 28), 6.5, facecolor="#1E50C8", edgecolor="none"))
    ov.add_patch(Circle((x_icon + 3, 20), 3, facecolor="#E8584F", edgecolor="none"))
    ov.add_patch(Circle((x_icon + 5, 18), 1.5, facecolor="#BBBBBB", edgecolor="none"))
    ov.text(title_x, 26, title, fontsize=10.8, color=DARK, va="center", ha="left", zorder=5)
    ov.add_patch(Polygon([[x_flag, 19], [x_flag + 12, 19], [x_flag + 8, 25], [x_flag + 12, 31], [x_flag, 31]],
                         facecolor=BLUE, edgecolor="none"))
    ov.add_patch(Circle((x_dot, 25.5), 8.5, facecolor="#EEEEEA", edgecolor="none"))
    ov.add_patch(Rectangle((x_dot - 4, 24.5), 8, 2.5, facecolor="#8A8D97", edgecolor="none"))
    for x, letter, value in parts:
        if letter:
            ov.text(x, 26, letter, fontsize=8.4, color=DARK, va="center", ha="left")
            ov.text(x + 9, 26, value, fontsize=8.4, color=col, va="center", ha="left")
        else:
            ov.text(x, 26, value, fontsize=8.4, color=col, va="center", ha="left")


header(21, "Euro / Yen Japonais · 4h · OANDA", 36, 281, 320,
       [(346, "O", "163,228"), (406, "H", "163,374"), (468, "B", "163,138"), (528, "C", "163,211"),
        (588, "", "−0,023"), (631, "", "(−0,01%)")], RED)
header(929, "Euro / Yen Japonais · 15 · OANDA", 945, 1188, 1228,
       [(1254, "O", "163,192"), (1315, "H", "163,232"), (1377, "B", "163,138"), (1436, "C", "163,211"),
        (1497, "", "+0,019"), (1541, "", "(+0,01%)")], BLUE)

for x0 in (14, 923):
    button(x0, 39, x0 + 32, 59)
    chevron(x0 + 10, 49)
    ov.text(x0 + 22, 49, "4", fontsize=8.4, color=DARK, ha="center", va="center")

# the three small controls above the left price scale
button(767, 13, 790, 36)
ov.plot([778.5, 778.5], [19, 30], color=DARK, lw=0.9)
chevron(778.5, 28.5, 3)
button(795, 13, 817, 36)
chevron(806, 20, 3)
chevron(806, 29, 3, down=False)
button(823, 13, 846, 36)
ov.add_patch(FancyBboxPatch((829, 20), 11, 10, boxstyle="round,pad=0,rounding_size=2", facecolor="none", edgecolor=DARK, lw=0.9))

for x0, x1 in ((855, 907), (1762, 1815)):
    button(x0, 13, x1, 38)
    ov.text(x0 + 5, 26, "JPY", fontsize=8.4, color=DARK, ha="left", va="center")
    chevron(x1 - 10, 27, 2.5)

# + marker on the crosshair price
ov.add_patch(Rectangle((830, 347), 21, 20, facecolor="#3A3D47", edgecolor="none"))
ov.add_patch(Circle((840, 357), 6.5, facecolor="none", edgecolor="white", lw=0.9))
ov.plot([836, 844], [357, 357], color="white", lw=0.9)
ov.plot([840, 840], [353, 361], color="white", lw=0.9)

for ax_x, lx in ((858, 884), (1767, 1792)):
    button(ax_x, 747, ax_x + 20, 768)
    button(lx, 747, lx + 20, 768)
    ov.text(ax_x + 10, 757.5, "A", fontsize=8.4, color=DARK, ha="center", va="center")
    ov.text(lx + 10, 757.5, "L", fontsize=8.4, color=DARK, ha="center", va="center")
    button(ax_x, 872, ax_x + 20, 893, face=BLUE, edge=BLUE)
    button(lx, 872, lx + 20, 893)
    ov.text(ax_x + 10, 882.5, "A", fontsize=8.4, color="white", ha="center", va="center")
    ov.text(lx + 10, 882.5, "L", fontsize=8.4, color=DARK, ha="center", va="center")

gear(881, 912)
gear(1788, 912)
ov.add_patch(Rectangle((712, 898), 138, 24, facecolor=DARK, edgecolor="none"))
ov.text(781, 910, "ven. 11 Oct '24   19:00", color="white", fontsize=8.4, ha="center", va="center")
ov.add_patch(Rectangle((1623, 898), 133, 24, facecolor=DARK, edgecolor="none"))
ov.text(1689.5, 910, "lun. 07 Oct '24   07:30", color="white", fontsize=8.4, ha="center", va="center")

# TradingView mark
ov.add_patch(Rectangle((15, 867), 33, 20, facecolor="white", edgecolor="none"))
ov.add_patch(Polygon([[16, 869], [32, 869], [32, 885], [24, 885], [24, 875], [16, 875]], facecolor=DARK, edgecolor="none"))
ov.add_patch(Circle((36, 872), 3, facecolor=DARK, edgecolor="none"))
ov.add_patch(Polygon([[40, 869], [48, 869], [41, 885], [33, 885]], facecolor=DARK, edgecolor="none"))

# blue frame of the active pane
ov.add_patch(Rectangle((915, 10), 1818 - 915, 924.5 - 10, facecolor="none", edgecolor=BLUE, lw=1.8))

fig.savefig("out.png", dpi=100)
